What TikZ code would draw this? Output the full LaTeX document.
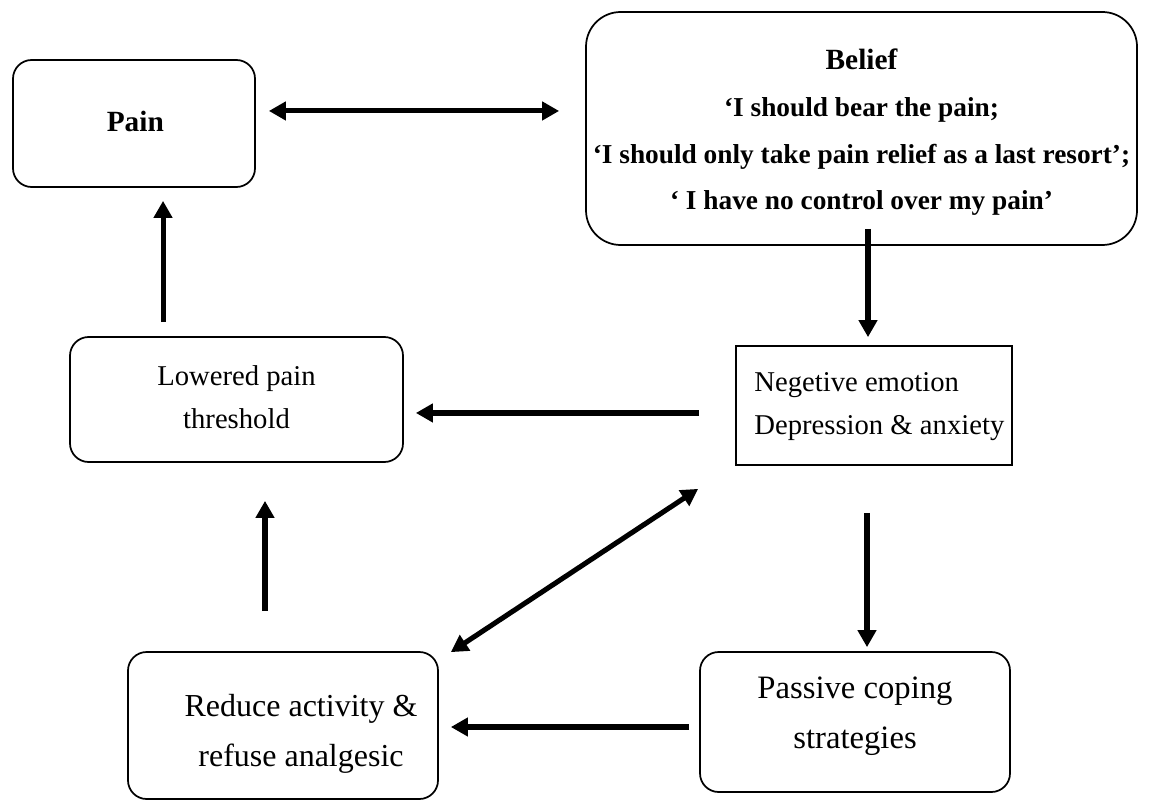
\documentclass[tikz,border=0pt]{standalone}
\usepackage{fontspec}
\setmainfont{Liberation Serif}
\usetikzlibrary{arrows.meta}
\begin{document}
\begin{tikzpicture}[x=0.75pt,y=-0.75pt,
  rbox/.style={draw, line width=1.3pt, rounded corners=14pt, inner sep=0pt},
  sbox/.style={draw, line width=1.3pt, inner sep=0pt},
  arr/.style={line width=3.8pt, -{Triangle[length=12.75pt,width=13.5pt]}},
  darr/.style={line width=3.8pt, {Triangle[length=12.75pt,width=13.5pt]}-{Triangle[length=12.75pt,width=13.5pt]}},
  midtxt/.style={font=\fontsize{21.5}{32}\selectfont, align=center, inner sep=0pt},
  bigtxt/.style={font=\fontsize{24.5}{37.5}\selectfont, align=center, inner sep=0pt},
  beltxt/.style={font=\bfseries\fontsize{20.5}{35}\selectfont, align=center, inner sep=0pt},
]
\useasboundingbox (0,0) rectangle (1151,802);

% boxes
\node[rbox, minimum width=181.5pt, minimum height=95.25pt] (pain) at (134,123.5) {};
\node[font=\bfseries\fontsize{22}{26}\selectfont, inner sep=0pt] (paintext) at ([xshift=1pt,yshift=1.5pt]pain.center) {Pain};

\node[rbox, rounded corners=26pt, minimum width=413.25pt, minimum height=174.75pt] (belief) at (861.5,128.5) {};
\node[beltxt] (belieftext) at ([yshift=-3pt]belief.center) {{\fontsize{22}{26}\selectfont Belief}\\ ‘I should bear the pain;\\ ‘I should only take pain relief as a last resort’;\\ ‘ I have no control over my pain’};

\node[rbox, minimum width=249.75pt, minimum height=93.75pt] (lowered) at (236.5,399.5) {};
\node[midtxt] (loweredtext) at ([yshift=1.5pt]lowered.center) {Lowered pain\\ threshold};

\node[sbox, minimum width=207pt, minimum height=89.25pt] (negative) at (874,405.5) {};
\node[midtxt, align=left] (negativetext) at ([xshift=4pt,yshift=-1pt]negative.center) {Negetive emotion\\ Depression \& anxiety};

\node[rbox, minimum width=232.5pt, minimum height=110.25pt] (reduce) at (283,725.5) {};
\node[bigtxt, font=\fontsize{24}{37.5}\selectfont] (reducetext) at ([xshift=13.5pt,yshift=-6pt]reduce.center) {Reduce activity \&\\ refuse analgesic};

\node[rbox, minimum width=232.5pt, minimum height=105pt] (passive) at (855,722) {};
\node[bigtxt] (passivetext) at ([yshift=4pt]passive.center) {Passive coping\\ strategies};

% connectors
\draw[darr, shorten <=9.75pt, shorten >=19.5pt] ([yshift=9.4pt]pain.east) -- ([yshift=9.4pt]pain.east -| belief.west);
\draw[arr, shorten <=-12.75pt, shorten >=6pt] ([xshift=-4.5pt]negative.north |- belief.south) -- ([xshift=-4.5pt]negative.north);
\draw[arr, shorten <=27pt, shorten >=9pt] ([yshift=-5.6pt]negative.west) -- ([yshift=-5.6pt]negative.west -| lowered.east);
\draw[arr, shorten <=35.25pt, shorten >=3pt] ([xshift=-5.25pt]negative.south) -- ([xshift=-5.25pt]negative.south |- passive.north);
\draw[darr] ([xshift=-27.75pt,yshift=-17.25pt]negative.south west) -- ([xshift=9pt,yshift=-0.75pt]reduce.north east);
\draw[arr, shorten <=7.5pt, shorten >=9pt] ([yshift=-3.75pt]passive.west) -- ([yshift=-3.75pt]passive.west -| reduce.east);
\draw[arr, shorten <=30pt, shorten >=28.5pt] ([xshift=-13.5pt]reduce.north) -- ([xshift=-13.5pt]reduce.north |- lowered.south);
\draw[arr, shorten <=10.5pt, shorten >=9.75pt] ([xshift=-55.1pt]lowered.north) -- ([xshift=-55.1pt]lowered.north |- pain.south);
\end{tikzpicture}
\end{document}
